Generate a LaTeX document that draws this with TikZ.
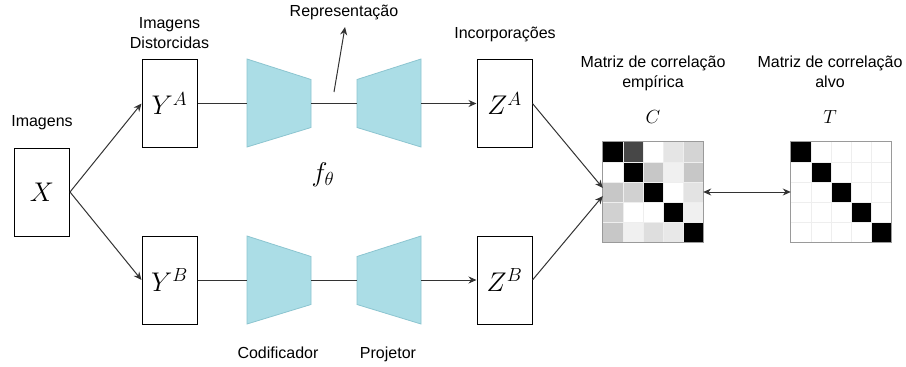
\documentclass[tikz,border=0pt]{standalone}
\usepackage{fix-cm}
\usepackage{fontspec}
\setmainfont{Liberation Sans}
\usetikzlibrary{arrows.meta,calc}

\definecolor{netfill}{HTML}{ABDDE6}
\definecolor{netline}{HTML}{8CC5D0}
\definecolor{wirecol}{HTML}{333333}
\definecolor{gridline}{HTML}{EEEEEE}
\definecolor{gridedge}{HTML}{9A9A9A}

\tikzset{
  databox/.style={draw=black, line width=1pt, minimum width=55pt, minimum height=88pt,
                  inner sep=0pt, font=\fontsize{27}{32}\selectfont},
  txt/.style={font=\fontsize{16}{20}\selectfont, align=center, inner sep=0pt},
  sym/.style={font=\fontsize{19}{22}\selectfont, inner sep=0pt},
  wire/.style={draw=wirecol, line width=1pt},
  arr/.style={wire, -{Stealth[length=8pt,width=7pt]}},
  biarr/.style={wire, {Stealth[length=8pt,width=7pt]}-{Stealth[length=8pt,width=7pt]}},
  net/.style={fill=netfill, draw=netline, line width=0.8pt},
  matnode/.style={minimum size=100pt, inner sep=0pt},
}

\begin{document}
\begin{tikzpicture}[x=1pt, y=-1pt]
  \useasboundingbox (0,0) rectangle (906,367);

  % input and views
  \node[databox] (X)  at (42,192)    {$X$};
  \node[databox] (YA) at (169.5,103.5) {$Y^A$};
  \node[databox] (YB) at (169.5,280)   {$Y^B$};
  \node[databox] (ZA) at (504.5,103.5) {$Z^A$};
  \node[databox] (ZB) at (504.5,280)   {$Z^B$};

  % captions (multi-line captions sit on the baseline of their last line)
  \node[txt, anchor=base] (capX)  at (42,126)  {Imagens};
  \node[txt, anchor=base] (capY)  at (169.5,48) {Imagens\\Distorcidas};
  \node[txt, anchor=base] (rep)   at (344,16)  {Representação};
  \node[txt, anchor=base] (capZ)  at (505,38)  {Incorporações};
  \node[txt, anchor=base] (capC)  at (653,87)  {Matriz de correlação\\empírica};
  \node[txt, anchor=base] (capT)  at (830,87)  {Matriz de correlação\\alvo};
  \node[txt, anchor=base] (enc)   at (278,358) {Codificador};
  \node[txt, anchor=base] (proj)  at (388,358) {Projetor};
  \node[font=\fontsize{27}{32}\selectfont, inner sep=0pt] (f) at (323,175) {$f_\theta$};
  \node[sym] (symC) at (653,117) {$C$};
  \node[sym] (symT) at (830,117) {$T$};

  % encoder / projector branches
  \foreach \b/\yc/\t in {A/103.5/59, B/280/236} {
    \pgfmathsetmacro\bt{\t+88}
    \pgfmathsetmacro\it{\t+20.5}
    \pgfmathsetmacro\ib{\t+68.5}
    \path[net] (247,\t) -- (311,\it) -- (311,\ib) -- (247,\bt) -- cycle;
    \path[net] (357,\it) -- (421,\t) -- (421,\bt) -- (357,\ib) -- cycle;
    \coordinate (enc\b-in)   at (247,\yc);
    \coordinate (enc\b-out)  at (311,\yc);
    \coordinate (proj\b-in)  at (357,\yc);
    \coordinate (proj\b-out) at (421,\yc);
  }

  % connectors
  \draw[arr] (X.east) -- (YA.west);
  \draw[arr] (X.east) -- (YB.west);
  \draw[wire] (YA.east) -- (encA-in);
  \draw[wire] (encA-out) -- (projA-in);
  \draw[arr] (projA-out) -- (ZA.west);
  \draw[wire] (YB.east) -- (encB-in);
  \draw[wire] (encB-out) -- (projB-in);
  \draw[arr] (projB-out) -- (ZB.west);

  \coordinate (repfoot) at (334,92);
  \coordinate (reptip)  at (345,27);
  \draw[arr] (repfoot) -- (reptip);

  % correlation matrices
  \node[matnode] (C) at (653,192) {};
  \node[matnode] (T) at (841,192) {};

  \foreach \d [count=\k from 0] in {100,72,0,10,17,
                                    0,100,22,6,22,
                                    22,18,100,0,11,
                                    18,0,0,100,6,
                                    22,6,13,9,100} {
    \pgfmathtruncatemacro\r{int(\k/5)}
    \pgfmathtruncatemacro\c{mod(\k,5)}
    \fill[black!\d] ($(C.north west)+(\c*20,\r*20)$) rectangle ++(20,20);
  }
  \foreach \k in {0,...,4} {
    \fill[black] ($(T.north west)+(\k*20,\k*20)$) rectangle ++(20,20);
  }
  \foreach \m in {C,T} {
    \foreach \k in {1,...,4} {
      \draw[gridline, line width=0.5pt] ($(\m.north west)+(\k*20,0)$) -- ++(0,100);
      \draw[gridline, line width=0.5pt] ($(\m.north west)+(0,\k*20)$) -- ++(100,0);
    }
    \draw[gridedge, line width=0.8pt] (\m.north west) rectangle (\m.south east);
  }

  \draw[arr] (ZA.east) -- ([yshift=4pt]C.west);
  \draw[arr] (ZB.east) -- ([yshift=-4pt]C.west);
  \draw[biarr] (C.east) -- (T.west);
\end{tikzpicture}
\end{document}
